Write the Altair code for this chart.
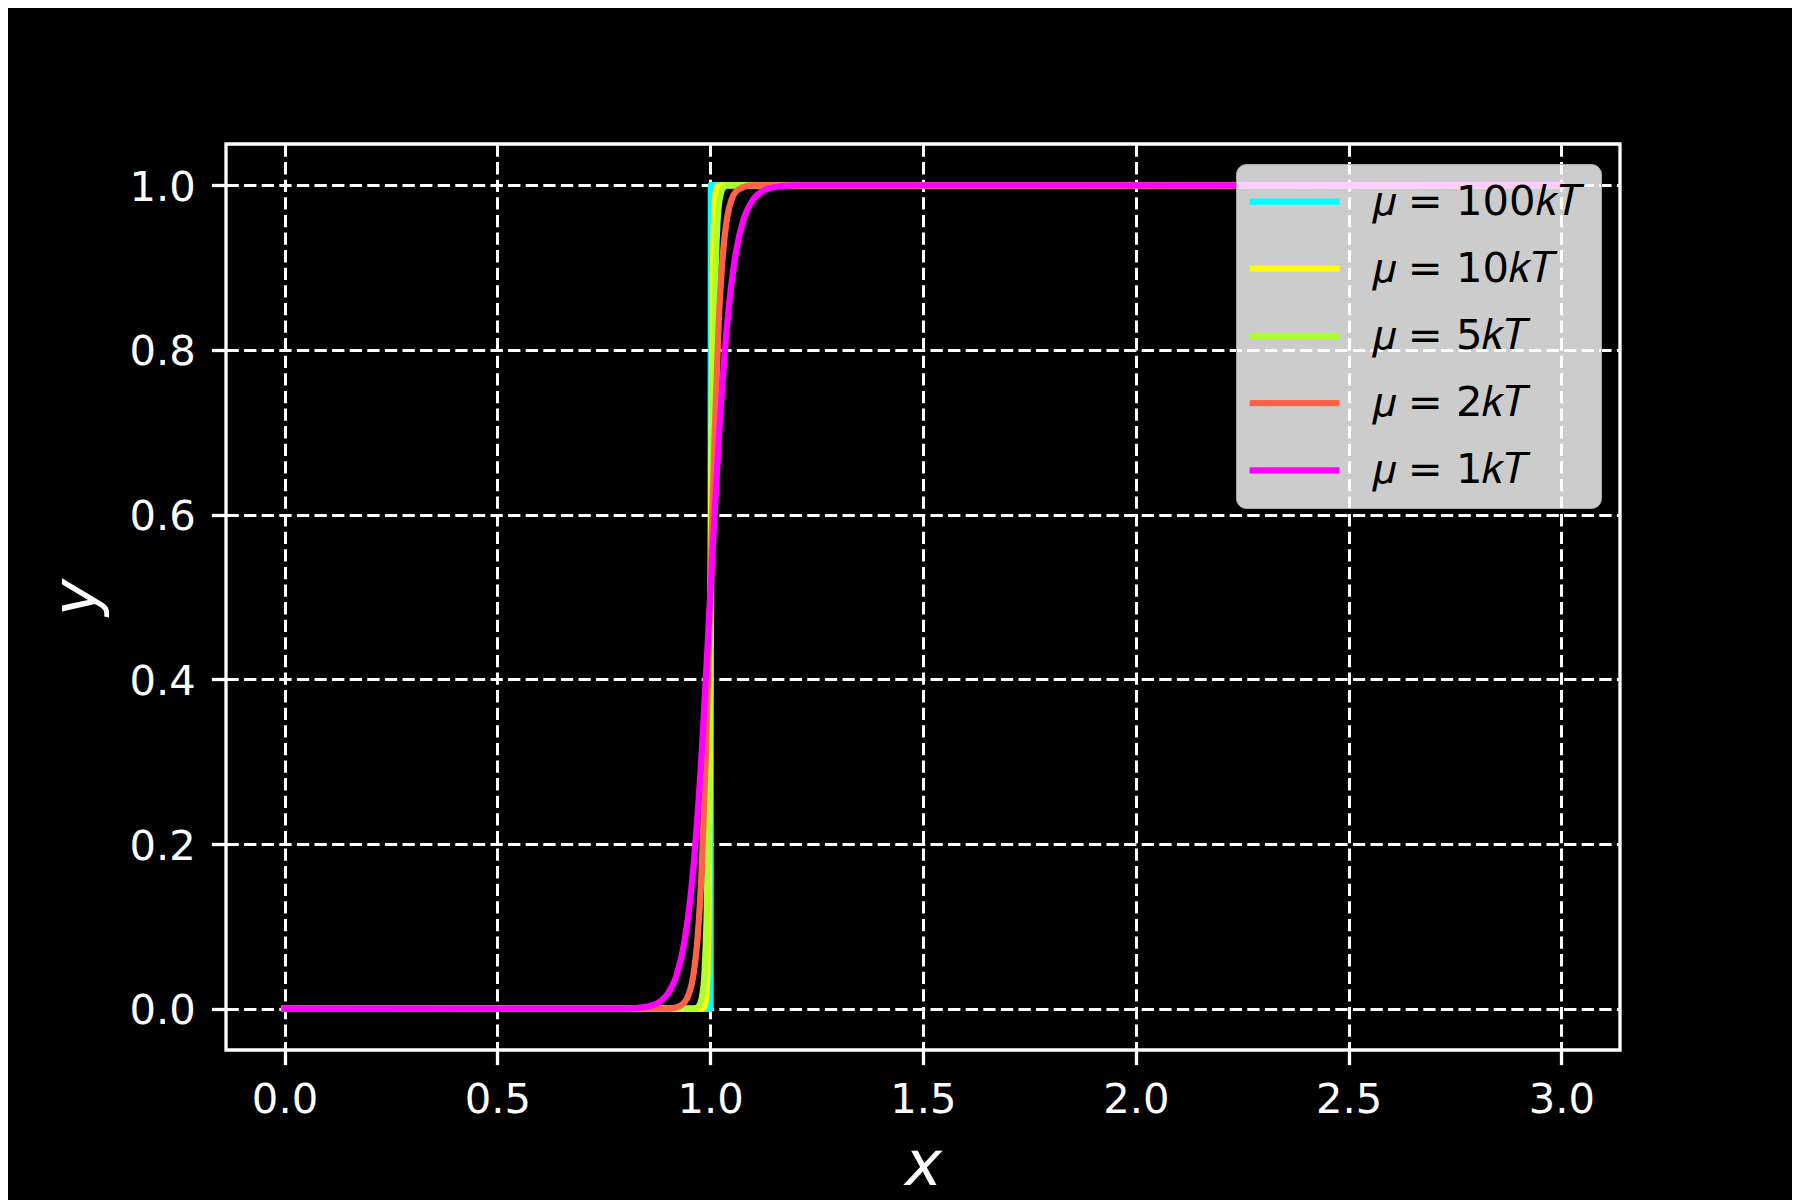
import altair as alt
import pandas as pd

# ---- data ----
series_labels = ["𝜇 = 100𝑘𝑇", "𝜇 = 10𝑘𝑇", "𝜇 = 5𝑘𝑇", "𝜇 = 2𝑘𝑇", "𝜇 = 1𝑘𝑇"]
series_colors = ["#00ffff", "#ffff00", "#adff2f", "#ff6347", "#ff00ff"]

x_100kT = [0.0, 1.0008, 1.0012, 1.0016, 3.0]
y_100kT = [0.0, 0.0, 0.5, 1.0, 1.0]

x_10kT = [0.0, 0.9812, 0.9862, 0.9912, 0.9962, 0.9987, 1.0012, 1.0037, 1.0062, 1.0112, 1.0162, 1.0212, 3.0]
y_10kT = [0.0, 0.0003, 0.0025, 0.018, 0.119, 0.269, 0.5, 0.731, 0.881, 0.982, 0.9975, 0.9997, 1.0]

x_5kT = [0.0, 0.962, 0.972, 0.982, 0.987, 0.992, 0.997, 1.002, 1.007, 1.012, 1.017, 1.022, 1.032, 1.042, 3.0]
y_5kT = [0.0, 0.0003, 0.0025, 0.018, 0.047, 0.119, 0.269, 0.5, 0.731, 0.881, 0.953, 0.982, 0.9975, 0.9997, 1.0]

x_2kT = [0.0, 0.90, 0.92, 0.94, 0.95, 0.96, 0.97, 0.98, 0.99, 1.00, 1.01, 1.02, 1.03, 1.04, 1.05, 1.06, 1.08, 1.10, 3.0]
y_2kT = [0.0, 0.0003, 0.0017, 0.008, 0.018, 0.039, 0.083, 0.168, 0.31, 0.5, 0.69, 0.832, 0.917, 0.961, 0.982, 0.992, 0.998, 0.9997, 1.0]

x_1kT = [0.0, 0.80, 0.85, 0.88, 0.90, 0.92, 0.94, 0.96, 0.98, 1.00, 1.02, 1.04, 1.06, 1.08, 1.10, 1.12, 1.15, 1.20, 3.0]
y_1kT = [0.0, 0.0003, 0.0025, 0.008, 0.018, 0.039, 0.083, 0.168, 0.31, 0.5, 0.69, 0.832, 0.917, 0.961, 0.982, 0.992, 0.9975, 0.9997, 1.0]

x_ticks = [0.0, 0.5, 1.0, 1.5, 2.0, 2.5, 3.0]
y_ticks = [0.0, 0.2, 0.4, 0.6, 0.8, 1.0]

# ---- table ----
rows = []
for lab, xs, ys in zip(series_labels,
                       [x_100kT, x_10kT, x_5kT, x_2kT, x_1kT],
                       [y_100kT, y_10kT, y_5kT, y_2kT, y_1kT]):
    for i, (a, b) in enumerate(zip(xs, ys)):
        rows.append({"series": lab, "x": a, "y": b, "idx": i})
df = pd.DataFrame(rows)

FONT = "DejaVu Sans"

chart = alt.Chart(df).mark_line(
    strokeWidth=6.25, interpolate="monotone", strokeCap="square", strokeJoin="round"
).encode(
    x=alt.X("x:Q",
            scale=alt.Scale(domain=[-0.1375, 3.1375], nice=False, zero=False),
            axis=alt.Axis(values=x_ticks, format=".1f", title="x",
                          titleFont=FONT, titleFontStyle="italic", titleFontWeight="normal",
                          titleFontSize=62.5, titleColor="white",
                          titleX=697, titleY=134, titleBaseline="alphabetic", titleAlign="center",
                          labelFont=FONT, labelFontSize=41.7, labelColor="white",
                          labelBaseline="alphabetic", labelPadding=48, labelFlush=False,
                          labelOverlap=False,
                          tickSize=14.6, tickWidth=3.3, tickColor="white",
                          domain=False, grid=True, gridColor="white", gridOpacity=1,
                          gridWidth=3, gridDash=[12.3, 5.3])),
    y=alt.Y("y:Q",
            scale=alt.Scale(domain=[-0.05, 1.05], nice=False, zero=False),
            axis=alt.Axis(values=y_ticks, format=".1f", title="y",
                          titleFont=FONT, titleFontStyle="italic", titleFontWeight="normal",
                          titleFontSize=62.5, titleColor="white", titleAngle=270,
                          titleX=-131, titleY=453, titleBaseline="alphabetic", titleAlign="center",
                          labelFont=FONT, labelFontSize=41.7, labelColor="white",
                          labelBaseline="alphabetic", labelOffset=15, labelPadding=16,
                          labelFlush=False, labelOverlap=False,
                          tickSize=14.6, tickWidth=3.3, tickColor="white",
                          domain=False, grid=True, gridColor="white", gridOpacity=1,
                          gridWidth=3, gridDash=[12.3, 5.3])),
    color=alt.Color("series:N",
                    scale=alt.Scale(domain=series_labels, range=series_colors),
                    sort=series_labels,
                    legend=alt.Legend(title=None, orient="none", legendX=1010, legendY=20,
                                      fillColor="rgba(255,255,255,0.8)", strokeColor="#aaaaaa",
                                      cornerRadius=10, padding=16,
                                      symbolType="M-2.5,0L2.5,0", symbolSize=1296,
                                      symbolOffset=21, symbolStrokeWidth=6.25,
                                      labelFont=FONT, labelFontSize=41.7, labelColor="black",
                                      labelOffset=55.5, labelLimit=500, rowPadding=23.2)),
    order=alt.Order("idx:Q"),
).properties(
    width=1394, height=906,
    padding={"left": 218, "top": 136, "right": 172, "bottom": 150},
    autosize=alt.AutoSizeParams(type="none"),
    background="black",
).configure_view(stroke="white", strokeWidth=3.3)

chart.save("out.html", embed_options={"renderer": "svg", "actions": False})
